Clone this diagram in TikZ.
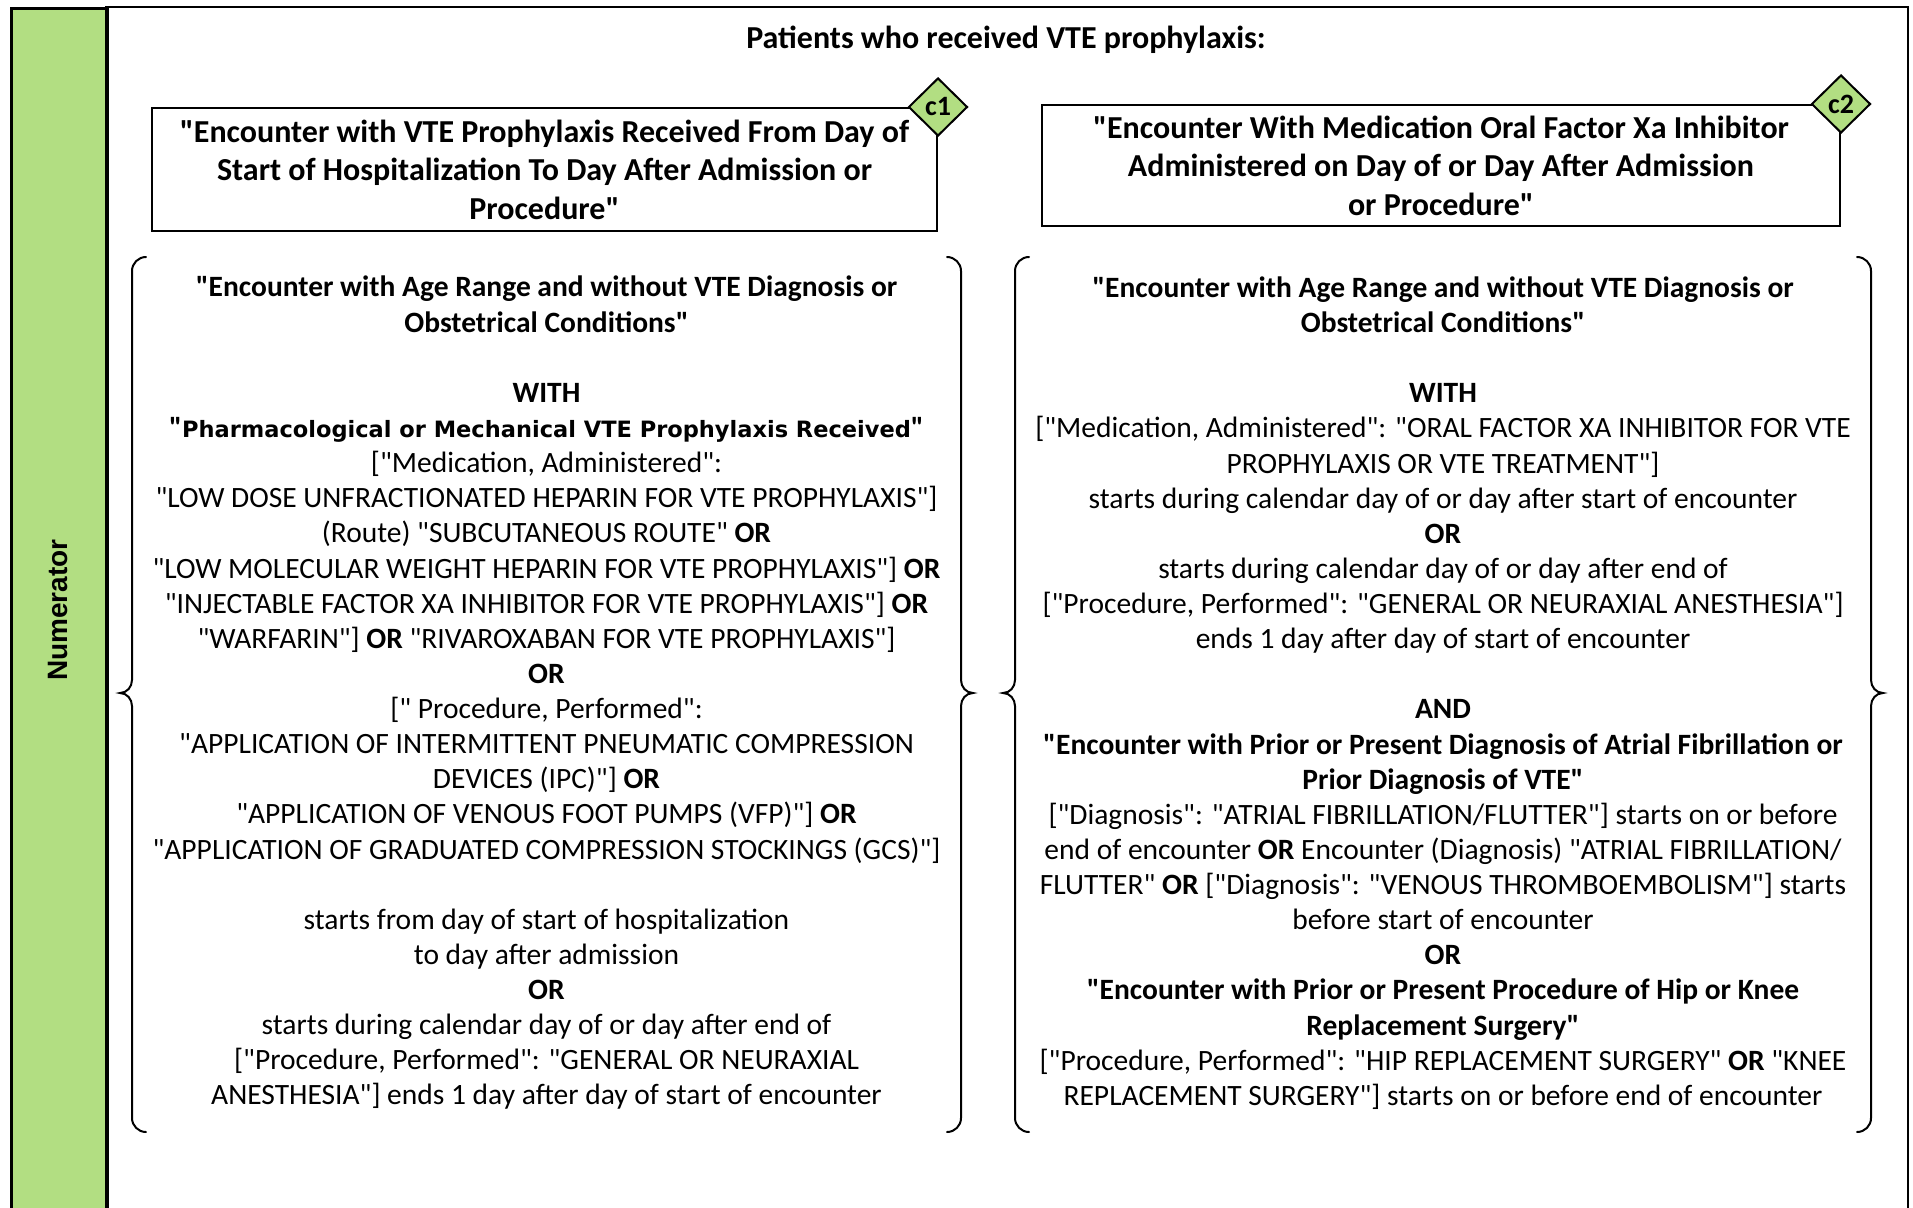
\documentclass[tikz,border=0pt]{standalone}
\usepackage{fontspec}
\setmainfont{Carlito}
\newfontfamily\calib{Carlito}
\newfontfamily\arialfont{Liberation Sans}
\newfontfamily\verdfont{DejaVu Sans}
\usetikzlibrary{shapes.geometric}
\definecolor{numgreen}{RGB}{178,222,130}
\newcommand{\mylbrace}[4]{%
  \draw[bracestyle] (#1+14,#2) to[out=180,in=90] (#1,#2+14) -- (#1,#3-13)
    to[out=-90,in=0] (#1-12,#3) to[out=0,in=90] (#1,#3+13) -- (#1,#4-14)
    to[out=-90,in=180] (#1+14,#4);}
\newcommand{\myrbrace}[4]{%
  \draw[bracestyle] (#1-14,#2) to[out=0,in=90] (#1,#2+14) -- (#1,#3-13)
    to[out=-90,in=180] (#1+12,#3) to[out=180,in=90] (#1,#3+13) -- (#1,#4-14)
    to[out=-90,in=0] (#1-14,#4);}
\begin{document}
\begin{tikzpicture}[x=1pt,y=-1pt,
  framestyle/.style={line width=2.6pt},
  headbox/.style={draw, line width=2pt, inner sep=0pt, align=center,
    font=\calib\fontsize{32}{38.4}\selectfont\bfseries},
  tagstyle/.style={diamond, draw, line width=2pt, fill=numgreen, inner sep=0pt,
    minimum width=59pt, minimum height=58pt, font=\calib\fontsize{28}{28}\selectfont\bfseries},
  coltext/.style={align=center, inner sep=0pt, font=\calib\fontsize{29.5}{35.13}\selectfont},
  bracestyle/.style={line width=2pt, line cap=round}]
\useasboundingbox (0,0) rectangle (1913,1207);
\fill[white] (0,0) rectangle (1913,1207);
% frame
\node[draw, framestyle, fill=numgreen, minimum width=96pt, minimum height=1210pt, inner sep=0pt, anchor=north west] (strip) at (10,7) {};
\draw[framestyle] (106,1210) -- (106,7) -- (1908,7) -- (1908,1210);
\node[rotate=90, font=\arialfont\bfseries\fontsize{28}{28}\selectfont] (num) at (58,610) {Numerator};
% title
\node[font=\calib\fontsize{32}{38}\selectfont\bfseries] (title) at (1006,40) {Patients who received VTE prophylaxis:};
% header boxes
\node[headbox, minimum width=785pt, minimum height=123pt] (boxA) at (544.5,169.5)
  {"Encounter with VTE Prophylaxis Received From Day of\\Start of Hospitalization To Day After Admission or\\Procedure"};
\node[headbox, minimum width=798pt, minimum height=121pt] (boxB) at (1441,165.5)
  {"Encounter With Medication Oral Factor Xa Inhibitor\\Administered on Day of or Day After Admission\\or Procedure"};
\node[tagstyle] (tagA) at (boxA.north east) {c1};
\node[tagstyle] (tagB) at (boxB.north east) {c2};
% braces
\mylbrace{132}{257}{693}{1132}
\myrbrace{961}{257}{693}{1132}
\mylbrace{1015}{257}{693}{1132}
\myrbrace{1871}{257}{693}{1132}
% column texts
\node[coltext] (colA) at (546.5,693) {%
\textbf{"Encounter with Age Range and without VTE Diagnosis or}\\
\textbf{Obstetrical Conditions"}\\
\mbox{}\\
\textbf{WITH}\\
\textbf{"}{\verdfont\bfseries\fontsize{22.5}{20}\selectfont Pharmacological or Mechanical VTE Prophylaxis Received}\textbf{"}\\
{[}"Medication, Administered":\\
"LOW DOSE UNFRACTIONATED HEPARIN FOR VTE PROPHYLAXIS"]\\
(Route) "SUBCUTANEOUS ROUTE" \textbf{OR}\\
"LOW MOLECULAR WEIGHT HEPARIN FOR VTE PROPHYLAXIS"] \textbf{OR}\\
"INJECTABLE FACTOR XA INHIBITOR FOR VTE PROPHYLAXIS"] \textbf{OR}\\
"WARFARIN"] \textbf{OR} "RIVAROXABAN FOR VTE PROPHYLAXIS"]\\
\textbf{OR}\\
{[}" Procedure, Performed":\\
"APPLICATION OF INTERMITTENT PNEUMATIC COMPRESSION\\
DEVICES (IPC)"] \textbf{OR}\\
"APPLICATION OF VENOUS FOOT PUMPS (VFP)"] \textbf{OR}\\
"APPLICATION OF GRADUATED COMPRESSION STOCKINGS (GCS)"]\\
\mbox{}\\
starts from day of start of hospitalization\\
to day after admission\\
\textbf{OR}\\
starts during calendar day of or day after end of\\
{[}"Procedure, Performed": "GENERAL OR NEURAXIAL\\
ANESTHESIA"] ends 1 day after day of start of encounter};
\node[coltext] (colB) at (1443,693) {%
\textbf{"Encounter with Age Range and without VTE Diagnosis or}\\
\textbf{Obstetrical Conditions"}\\
\mbox{}\\
\textbf{WITH}\\
{[}"Medication, Administered": "ORAL FACTOR XA INHIBITOR FOR VTE\\
PROPHYLAXIS OR VTE TREATMENT"]\\
starts during calendar day of or day after start of encounter\\
\textbf{OR}\\
starts during calendar day of or day after end of\\
{[}"Procedure, Performed": "GENERAL OR NEURAXIAL ANESTHESIA"]\\
ends 1 day after day of start of encounter\\
\mbox{}\\
\textbf{AND}\\
\textbf{"Encounter with Prior or Present Diagnosis of Atrial Fibrillation or}\\
\textbf{Prior Diagnosis of VTE"}\\
{[}"Diagnosis": "ATRIAL FIBRILLATION/FLUTTER"] starts on or before\\
end of encounter \textbf{OR} Encounter (Diagnosis) "ATRIAL FIBRILLATION/\\
FLUTTER" \textbf{OR} {[}"Diagnosis": "VENOUS THROMBOEMBOLISM"] starts\\
before start of encounter\\
\textbf{OR}\\
\textbf{"Encounter with Prior or Present Procedure of Hip or Knee}\\
\textbf{Replacement Surgery"}\\
{[}"Procedure, Performed": "HIP REPLACEMENT SURGERY" \textbf{OR} "KNEE\\
REPLACEMENT SURGERY"] starts on or before end of encounter};
\end{tikzpicture}
\end{document}
